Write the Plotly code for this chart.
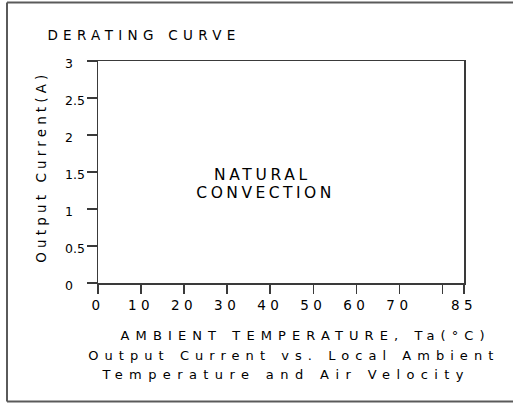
import json
import plotly.graph_objects as go

# ---- data ----
x_tick_vals = [0, 10, 20, 30, 40, 50, 60, 70, 80, 85]
x_tick_text = ["0", "10", "20", "30", "40", "50", "60", "70", "", "85"]
y_tick_vals = [0, 0.5, 1, 1.5, 2, 2.5, 3]
y_tick_text = ["0", "0.5", "1", "1.5", "2", "2.5", "3"]
x_range = [0, 85]
y_range = [0, 3]

title_text = "DERATING CURVE"
y_title_text = "Output Current(A)"
x_title_text = "AMBIENT TEMPERATURE, Ta(°C)"
caption_lines = ["Output Current vs. Local Ambient", "Temperature and Air Velocity"]
region_lines = ["NATURAL", "CONVECTION"]
region_x = [37.85, 38.55]
region_y = [1.453, 1.223]

W, H = 513, 403
L, R, T, B = 98, 49, 61, 120
PW, PH = W - L - R, H - T - B
FONT = "DejaVu Sans"


def px(x):
    return (x - L) / PW


def py(y):
    return (H - B - y) / PH


fig = go.Figure()
fig.add_trace(go.Scatter(x=[], y=[], mode="lines", showlegend=False))

axis_line = "#3a3a3a"
fig.update_layout(
    width=W, height=H,
    margin=dict(l=L, r=R, t=T, b=B, pad=0),
    paper_bgcolor="white", plot_bgcolor="white",
    showlegend=False,
    font=dict(family=FONT, color="black", size=13),
    xaxis=dict(range=x_range, tickmode="array", tickvals=x_tick_vals, ticktext=x_tick_text,
               showgrid=False, zeroline=False, showline=True, linecolor=axis_line, linewidth=1.5,
               mirror=True, ticks="outside", ticklen=9, tickcolor=axis_line, tickwidth=1.5,
               tickfont=dict(family=FONT, size=13.5, color="black"), fixedrange=True),
    yaxis=dict(range=y_range, tickmode="array", tickvals=y_tick_vals, showticklabels=False,
               showgrid=False, zeroline=False, showline=True, linecolor=axis_line, linewidth=1.5,
               mirror=True, ticks="outside", ticklen=10, tickcolor=axis_line, tickwidth=1.5,
               fixedrange=True),
)

annotations = []
targets = []  # [target ink width, compensate centre shift]

for v, t in zip(y_tick_vals, y_tick_text):
    annotations.append(dict(x=px(63), xref="paper", y=v, yref="y", text=t, showarrow=False,
                            xanchor="left", yanchor="middle", yshift=-2,
                            font=dict(family=FONT, size=12.5, color="black")))
    targets.append(None)

annotations.append(dict(x=px(141.5), y=py(35), xref="paper", yref="paper", text=title_text,
                        showarrow=False, xanchor="center", yanchor="middle",
                        font=dict(family=FONT, size=13.5, color="black")))
targets.append([188, True])

annotations.append(dict(x=px(40), y=py(168.5), xref="paper", yref="paper", text=y_title_text,
                        showarrow=False, xanchor="center", yanchor="middle", textangle=-90,
                        font=dict(family=FONT, size=13.5, color="black")))
targets.append([188, True])

annotations.append(dict(x=px(302.3), y=py(335.5), xref="paper", yref="paper", text=x_title_text,
                        showarrow=False, xanchor="center", yanchor="middle",
                        font=dict(family=FONT, size=13, color="black")))
targets.append([364, True])

annotations.append(dict(x=px(291), y=py(355), xref="paper", yref="paper", text=caption_lines[0],
                        showarrow=False, xanchor="center", yanchor="middle",
                        font=dict(family=FONT, size=13, color="black")))
targets.append([405, True])

annotations.append(dict(x=px(282), y=py(374), xref="paper", yref="paper", text=caption_lines[1],
                        showarrow=False, xanchor="center", yanchor="middle",
                        font=dict(family=FONT, size=13, color="black")))
targets.append([361, True])

for line, xv, yv, w in zip(region_lines, region_x, region_y, [93, 135]):
    annotations.append(dict(x=xv, y=yv, xref="x", yref="y", text=line,
                            showarrow=False, xanchor="center", yanchor="middle",
                            font=dict(family=FONT, size=15.5, color="black")))
    targets.append([w, True])

fig.update_layout(annotations=annotations)

# outer frame (left, top, bottom)
frame_col = "#5a5a5a"
fig.add_shape(type="line", xref="paper", yref="paper", x0=px(7), x1=px(513), y0=py(2.5), y1=py(2.5),
              line=dict(color=frame_col, width=2))
fig.add_shape(type="line", xref="paper", yref="paper", x0=px(7), x1=px(513), y0=py(401.5), y1=py(401.5),
              line=dict(color=frame_col, width=2))
fig.add_shape(type="line", xref="paper", yref="paper", x0=px(7), x1=px(7), y0=py(2.5), y1=py(401.5),
              line=dict(color=frame_col, width=2))

post = """
document.body.style.margin = '0';
document.body.style.overflow = 'hidden';
var gd = document.getElementById('{plot_id}');
var FIT = %s;
function fitText(t, w, centre){
  t.style.letterSpacing = '0px';
  t.removeAttribute('dx');
  var n = t.textContent.length;
  if (n < 2) return;
  var len = t.getComputedTextLength();
  var ls = (w - len) / (n - 1);
  t.style.letterSpacing = ls + 'px';
  if (centre) { t.setAttribute('dx', (ls / 2) + 'px'); }
}
function applyLS(){
  gd.querySelectorAll('g.annotation').forEach(function(g){
    var i = +g.getAttribute('data-index');
    var t = g.querySelector('text.annotation-text');
    var f = FIT[i];
    if (t && f) { fitText(t, f[0], f[1]); }
  });
  gd.querySelectorAll('g.xtick text').forEach(function(t){ t.style.letterSpacing = '4.5px'; });
}
applyLS();
if (gd.on) { gd.on('plotly_afterplot', applyLS); }
""" % (json.dumps(targets))

fig.write_html("out.html", post_script=post, config={"displayModeBar": False, "staticPlot": True})
